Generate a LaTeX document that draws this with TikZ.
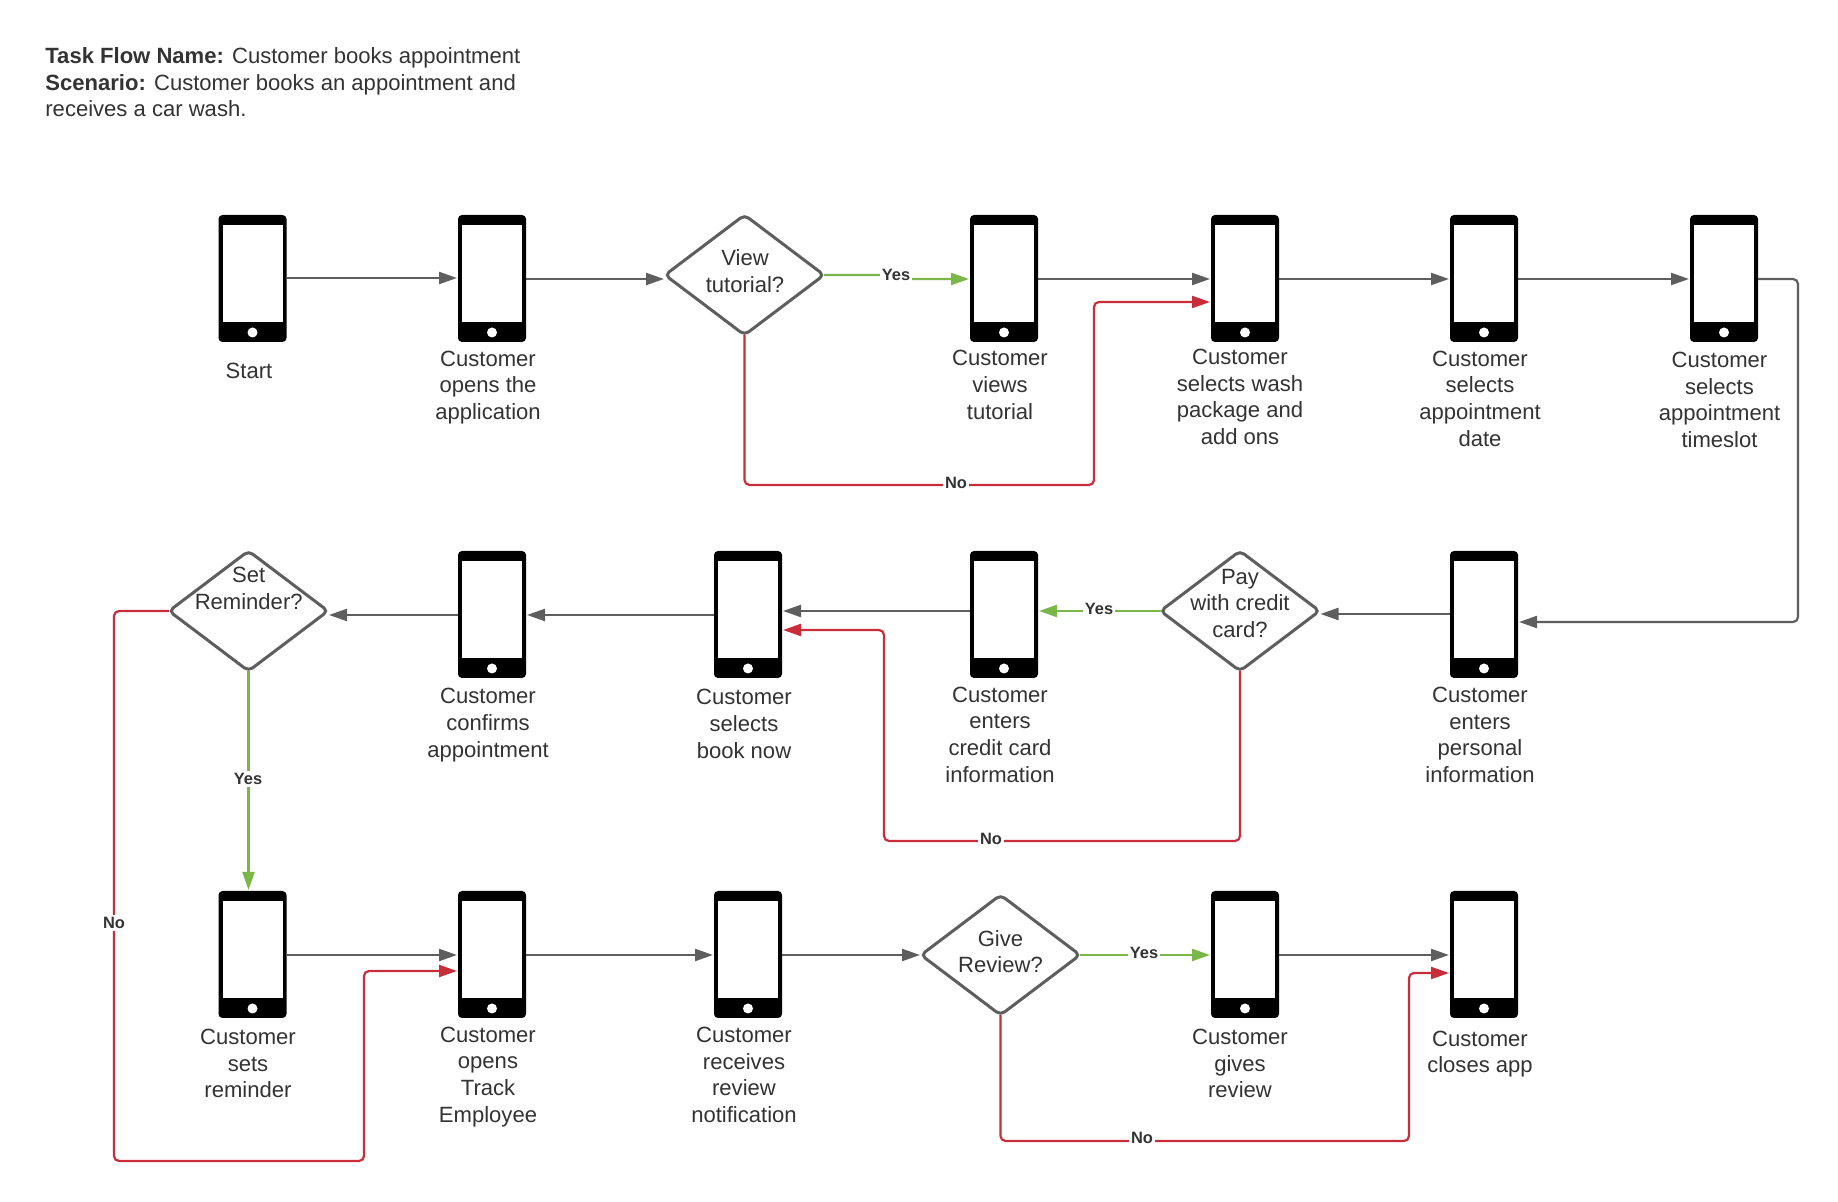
\documentclass[tikz,border=0pt]{standalone}
\usepackage{fontspec}
\setmainfont{Liberation Sans}
\usetikzlibrary{arrows.meta,shapes.geometric}
\definecolor{inktext}{HTML}{333333}
\definecolor{linegray}{HTML}{5E5E5E}
\definecolor{linegreen}{HTML}{7AB648}
\definecolor{linered}{HTML}{C92D39}
\tikzset{
  phonebody/.style={fill=black,draw=none,rounded corners=2pt,minimum width=34pt,minimum height=63.5pt,inner sep=0pt,outer sep=0pt},
  phonescreen/.style={fill=white,draw=none,minimum width=30pt,minimum height=48.5pt,inner sep=0pt,outer sep=0pt},
  phonebutton/.style={circle,fill=white,draw=none,minimum size=5pt,inner sep=0pt,outer sep=0pt},
  decision/.style={diamond,draw=linegray,line width=1.5pt,fill=white,rounded corners=2.5pt,aspect=1.32,minimum width=79.5pt,minimum height=60pt,inner sep=0pt,outer sep=0pt},
  caption/.style={text=inktext,align=center,inner sep=0pt,font=\fontsize{11.03}{13.35}\selectfont},
  heading/.style={text=inktext,align=left,anchor=north west,inner sep=0pt,font=\fontsize{11.03}{13.35}\selectfont},
  edgelabel/.style={text=inktext,fill=white,inner sep=1pt,font=\fontsize{8.2}{10}\selectfont\bfseries},
  flowgray/.style={draw=linegray,line width=1.1pt,rounded corners=2.5pt,-{Triangle[length=9pt,width=6pt]},fill=none,shorten >=0.5pt},
  flowgreen/.style={draw=linegreen,line width=1.1pt,rounded corners=0.5pt,-{Triangle[length=9pt,width=6pt]},shorten >=0.5pt},
  flowred/.style={draw=linered,line width=1.1pt,rounded corners=2.5pt,-{Triangle[length=9pt,width=6pt]},shorten >=0.5pt},
}
\newcommand{\phonenode}[3]{%
  \node[phonebody] (#1) at (#2,#3) {};
  \node[phonescreen] (#1s) at (#2,#3-5) {};
  \node[phonebutton] (#1b) at (#2,#3+54) {};
}
\begin{document}
\begin{tikzpicture}[x=0.5pt,y=-0.5pt]
\useasboundingbox (0,0) rectangle (1838,1202);
\fill[white] (0,0) rectangle (1838,1202);

% header
\node[heading] (title) at (45,47) {\textbf{Task Flow Name:} Customer books appointment\\\textbf{Scenario:} Customer books an appointment and\\receives a car wash.};

% phones
\phonenode{aa}{252.5}{278.5}
\phonenode{ab}{492}{278.5}
\phonenode{ad}{1004}{278.5}
\phonenode{ae}{1245}{278.5}
\phonenode{af}{1484}{278.5}
\phonenode{ag}{1724}{278.5}
\phonenode{bf}{1484}{614.5}
\phonenode{bd}{1004}{614.5}
\phonenode{bc}{748}{614.5}
\phonenode{bb}{492}{614.5}
\phonenode{ca}{252.5}{954.5}
\phonenode{cb}{492}{954.5}
\phonenode{cc}{748}{954.5}
\phonenode{ce}{1245}{954.5}
\phonenode{cf}{1484}{954.5}

% decisions
\node[decision] (dv) at (744.5,275) {};
\node[decision] (dp) at (1240,611) {};
\node[decision] (ds) at (248.5,611) {};
\node[decision] (dg) at (1000.5,955) {};

% gray connectors
\draw[flowgray] (aa.east |- 0,278) -- (ab.west |- 0,278);
\draw[flowgray] (ab.east |- 0,279) -- (dv.west |- 0,279);
\draw[flowgray] (ad.east |- 0,279) -- (ae.west |- 0,279);
\draw[flowgray] (ae.east |- 0,279) -- (af.west |- 0,279);
\draw[flowgray] (af.east |- 0,279) -- (ag.west |- 0,279);
\draw[flowgray] (ag.east |- 0,279) -- (1798,279) -- (1798,622) -- (bf.east |- 0,622);
\draw[flowgray] (bf.west |- 0,614) -- (dp.east |- 0,614);
\draw[flowgray] (bd.west |- 0,611) -- (bc.east |- 0,611);
\draw[flowgray] (bc.west |- 0,615) -- (bb.east |- 0,615);
\draw[flowgray] (bb.west |- 0,615) -- (ds.east |- 0,615);
\draw[flowgray] (ca.east |- 0,955) -- (cb.west |- 0,955);
\draw[flowgray] (cb.east |- 0,955) -- (cc.west |- 0,955);
\draw[flowgray] (cc.east |- 0,955) -- (dg.west |- 0,955);
\draw[flowgray] (ce.east |- 0,955) -- (cf.west |- 0,955);

% green connectors
\draw[flowgreen] (dv.east) -- (896,275) -- (896,279) -- (ad.west |- 0,279);
\draw[flowgreen] (dp.west) -- (bd.east |- dp.west);
\draw[flowgreen] (ds.south) -- (ca.north -| ds.south);
\draw[flowgreen] (dg.east) -- (ce.west |- dg.east);

% red connectors
\draw[flowred] (dv.south) -- (744.5,485) -- (1094,485) -- (1094,302) -- (ae.west |- 0,302);
\draw[flowred] (dp.south) -- (1240,841) -- (884,841) -- (884,630) -- (bc.east |- 0,630);
\draw[flowred] (ds.west) -- (114,611) -- (114,1161) -- (364,1161) -- (364,971) -- (cb.west |- 0,971);
\draw[flowred] (dg.south) -- (1000.5,1141) -- (1409,1141) -- (1409,973) -- (cf.west |- 0,973);

% edge labels
\node[edgelabel] (ly1) at (896,275) {Yes};
\node[edgelabel] (ln1) at (956,483) {No};
\node[edgelabel] (ly2) at (1099,609) {Yes};
\node[edgelabel] (ln2) at (991,839) {No};
\node[edgelabel] (ly3) at (248,779) {Yes};
\node[edgelabel] (ln3) at (114,923) {No};
\node[edgelabel] (ly4) at (1144,953) {Yes};
\node[edgelabel] (ln4) at (1142,1138) {No};

% decision texts
\node[caption] (tv) at (745,271) {View\\tutorial?};
\node[caption] (ts) at (248.7,588.5) {Set\\Reminder?};
\node[caption] (tp) at (1240,603.5) {Pay\\with credit\\card?};
\node[caption] (tg) at (1000.5,951.5) {Give\\Review?};

% captions
\node[caption] (c1) at (249,371) {Start};
\node[caption] (c2) at (488,387.5) {Customer\\opens the\\application};
\node[caption] (c3) at (1000,385) {Customer\\views\\tutorial};
\node[caption] (c4) at (1240,397) {Customer\\selects wash\\package and\\add ons};
\node[caption] (c5) at (1480,398.5) {Customer\\selects\\appointment\\date};
\node[caption] (c6) at (1719.5,400) {Customer\\selects\\appointment\\timeslot};
\node[caption] (c7) at (1480,735) {Customer\\enters\\personal\\information};
\node[caption] (c8) at (1000,734.5) {Customer\\enters\\credit card\\information};
\node[caption] (c9) at (744,724) {Customer\\selects\\book now};
\node[caption] (c10) at (488,725) {Customer\\confirms\\appointment};
\node[caption] (c11) at (248,1063.5) {Customer\\sets\\reminder};
\node[caption] (c12) at (488,1076.8) {Customer\\opens\\Track\\Employee};
\node[caption] (c13) at (744,1074.8) {Customer\\receives\\review\\notification};
\node[caption] (c14) at (1240,1063.5) {Customer\\gives\\review};
\node[caption] (c15) at (1480,1054) {Customer\\closes app};
\end{tikzpicture}
\end{document}
